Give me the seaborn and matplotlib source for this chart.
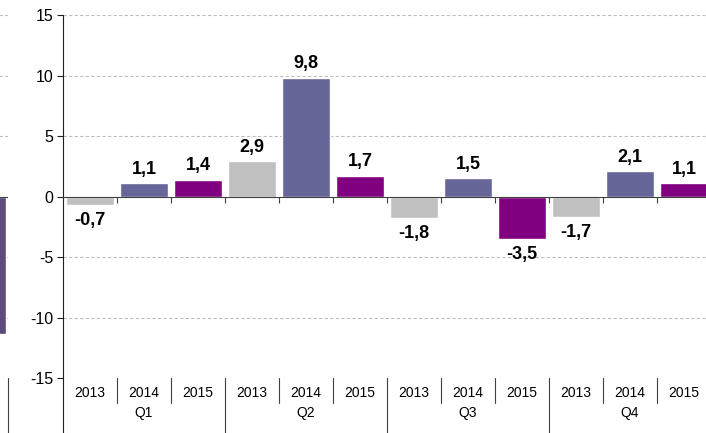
import pandas as pd
import matplotlib.pyplot as plt
import seaborn as sns

# values
quarters = ['Q1', 'Q2', 'Q3', 'Q4']
years = ['2013', '2014', '2015']
values = [-0.7, 1.1, 1.4,
          2.9, 9.8, 1.7,
          -1.8, 1.5, -3.5,
          -1.7, 2.1, 1.1]
colors = {'2013': '#C0C0C0', '2014': '#666699', '2015': '#800080'}

# cut-off bar of the neighbouring chart at the left edge
side_value = [-11.4]

rows = []
for qi, q in enumerate(quarters):
    for yi, y in enumerate(years):
        rows.append({'slot': q + ' ' + y, 'quarter': q, 'year': y,
                     'value': values[qi * 3 + yi]})
df = pd.DataFrame(rows)

sns.set_style('white')
plt.rcParams['font.family'] = ['Liberation Sans', 'DejaVu Sans']
plt.rcParams['axes.unicode_minus'] = False
plt.rcParams['text.color'] = 'black'
plt.rcParams['ytick.labelcolor'] = 'black'

fig = plt.figure(figsize=(7.06, 4.33), dpi=100)
W, H = 706, 433
ax = fig.add_axes([63 / W, (H - 378) / H, 648 / W, 363 / H])

sns.barplot(data=df, x='slot', y='value', hue='year', palette=colors,
            dodge=False, width=0.88, legend=False, ax=ax, saturation=1)

ax.set_ylim(-15, 15)
ax.set_xlim(-0.5, len(df) - 0.5)
ax.set_yticks([-15, -10, -5, 0, 5, 10, 15])
ax.set_yticklabels(['-15', '-10', '-5', '0', '5', '10', '15'], fontsize=11.5)
ax.set_xlabel('')
ax.set_ylabel('')

# dashed grid
for v in [-15, -10, -5, 5, 10, 15]:
    ax.axhline(v, color='#BFBFBF', lw=0.8, ls=(0, (3, 2)), zorder=0)

for s in ['top', 'right']:
    ax.spines[s].set_visible(False)
ax.spines['bottom'].set_position(('data', 0))
ax.spines['bottom'].set_color('#404040')
ax.spines['left'].set_color('#202020')
ax.tick_params(axis='y', left=True, length=4, color='#202020', pad=3)
ax.set_xticks([i + 0.5 for i in range(len(df))])
ax.set_xticklabels([])
ax.tick_params(axis='x', bottom=True, length=4, color='#404040')

# extend the left spine to the bottom of the figure
ax.plot([0, 0], [0, -0.16], transform=ax.transAxes, color='#202020',
        lw=0.8, clip_on=False)

# category labels under the plot
tr = ax.get_xaxis_transform()
for i, r in df.iterrows():
    ax.text(i, -0.04, r['year'], transform=tr, ha='center', va='center',
            fontsize=10, color='black')
    if i < len(df) - 1:
        bottom = -0.16 if r['year'] == '2015' else -0.07
        ax.plot([i + 0.5, i + 0.5], [0, bottom], transform=tr,
                color='#404040', lw=0.8, clip_on=False)
for qi, q in enumerate(quarters):
    ax.text(qi * 3 + 1, -0.097, q, transform=tr, ha='center', va='center',
            fontsize=10, color='black')

# value labels
for i, v in enumerate(df['value']):
    txt = ('%.1f' % v).replace('.', ',')
    if v >= 0:
        ax.annotate(txt, (i, v), xytext=(0, 4), textcoords='offset points',
                    ha='center', va='bottom', fontsize=13, fontweight='bold',
                    color='black')
    else:
        ax.annotate(txt, (i, v), xytext=(0, -5), textcoords='offset points',
                    ha='center', va='top', fontsize=13, fontweight='bold',
                    color='black')

# fragment of the neighbouring chart
ax0 = fig.add_axes([-52 / W, (H - 378) / H, 60 / W, 363 / H])
sns.barplot(x=['x'], y=side_value, color='#5E4B7E', width=0.8, ax=ax0,
            saturation=1)
ax0.set_xlim(-1.0, 0.45)
ax0.set_ylim(-15, 15)
ax0.axis('off')
for v in [-15, -10, -5, 5, 10, 15]:
    ax0.axhline(v, color='#BFBFBF', lw=0.8, ls=(0, (3, 2)), zorder=0)
ax0.axhline(0, color='#404040', lw=0.8)
ax0.plot([1, 1], [0, -0.16], transform=ax0.transAxes, color='#404040',
         lw=0.8, clip_on=False)

fig.savefig('out.png', dpi=100)
